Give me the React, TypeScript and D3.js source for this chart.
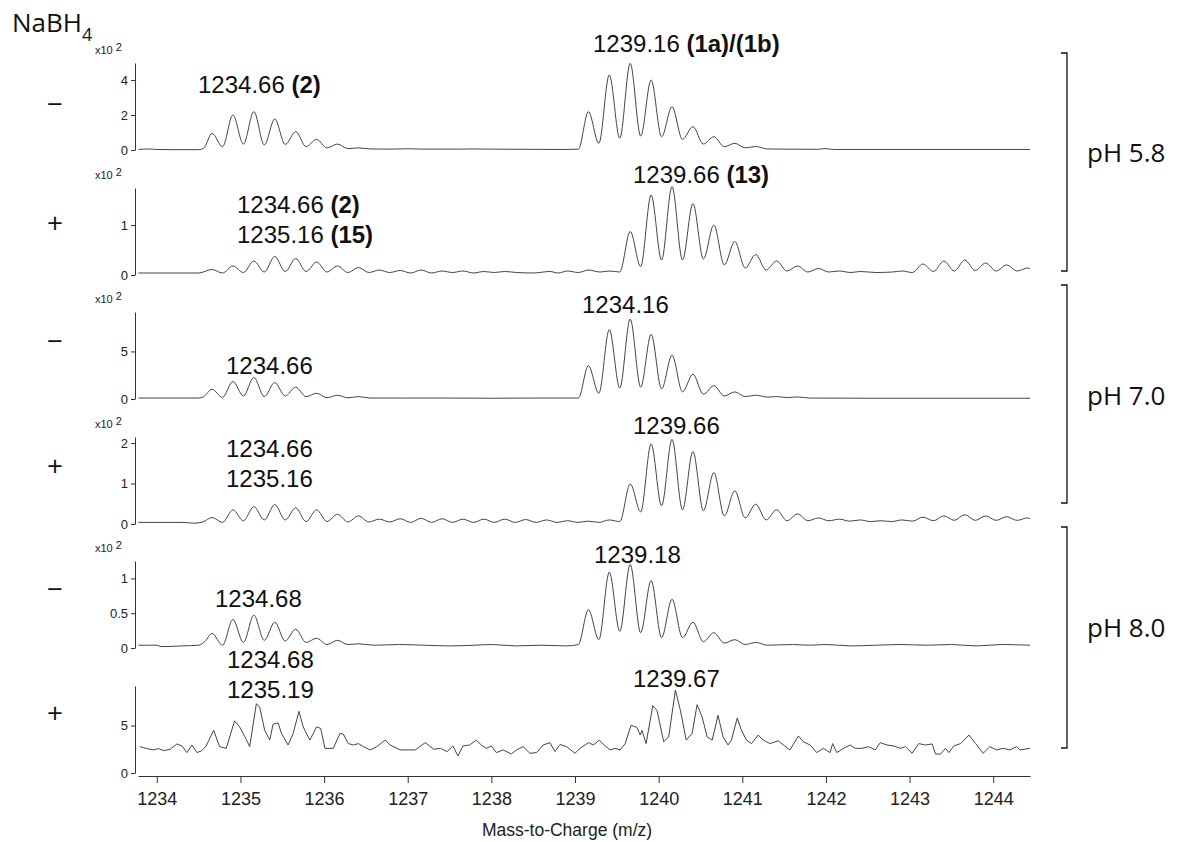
import * as d3 from 'd3'
import { useEffect, useRef } from 'react'

// m/z axis
const mzDomain = [1233.775, 1244.44]
const mzTicks = [1234, 1235, 1236, 1237, 1238, 1239, 1240, 1241, 1242, 1243, 1244]

// one row per trace, top to bottom
const signs = ['\u2212', '+', '\u2212', '+', '\u2212', '+']
const yMax = [4.97, 1.74, 9.15, 2.15, 1.25, 9.17]
const yTicks = [[0, 2, 4], [0, 1], [0, 5], [0, 1, 2], [0, 0.5, 1], [0, 5]]
const showExp = [true, true, true, true, true, false]
const phGroups = ['pH 5.8', 'pH 7.0', 'pH 8.0']

// [m/z, intensity x10^2]
const ph58Minus: [number, number][] = [
	[1233.78, 0.03], [1233.9, 0.06], [1234.0, 0.03], [1234.2, 0.02], [1234.5, 0.02], [1234.56, 0.1],
	[1234.66, 0.95], [1234.785, 0.19], [1234.91, 2.0], [1235.035, 0.34], [1235.16, 2.19], [1235.285, 0.29],
	[1235.41, 1.77], [1235.535, 0.32], [1235.66, 1.05], [1235.785, 0.19], [1235.91, 0.61], [1236.035, 0.12],
	[1236.16, 0.34], [1236.285, 0.08], [1236.41, 0.12], [1236.55, 0.06], [1236.8, 0.05], [1237.0, 0.07],
	[1237.2, 0.05], [1237.6, 0.05], [1237.8, 0.06], [1238.0, 0.05], [1238.4, 0.04], [1238.9, 0.03],
	[1239.04, 0.05], [1239.16, 2.19], [1239.285, 0.38], [1239.41, 4.29], [1239.535, 0.67], [1239.66, 4.95],
	[1239.785, 0.8], [1239.91, 4.0], [1240.035, 0.76], [1240.16, 2.47], [1240.285, 0.61], [1240.41, 1.33],
	[1240.535, 0.34], [1240.66, 0.76], [1240.785, 0.19], [1240.91, 0.38], [1241.035, 0.12], [1241.16, 0.2],
	[1241.3, 0.06], [1241.5, 0.05], [1241.9, 0.04], [1241.99, 0.08], [1242.1, 0.03], [1243.0, 0.03], [1244.44, 0.03],
]

const ph58Plus: [number, number][] = [
	[1233.78, 0.04], [1234.3, 0.04], [1234.5, 0.04], [1234.66, 0.11], [1234.785, 0.04], [1234.91, 0.18],
	[1235.035, 0.05], [1235.16, 0.28], [1235.285, 0.06], [1235.41, 0.37], [1235.535, 0.07], [1235.66, 0.33],
	[1235.785, 0.07], [1235.91, 0.26], [1236.035, 0.06], [1236.16, 0.18], [1236.285, 0.05], [1236.41, 0.15],
	[1236.535, 0.05], [1236.66, 0.1], [1236.785, 0.05], [1236.91, 0.09], [1237.035, 0.04], [1237.16, 0.1],
	[1237.285, 0.04], [1237.41, 0.08], [1237.535, 0.05], [1237.66, 0.08], [1237.785, 0.04], [1237.91, 0.07],
	[1238.035, 0.05], [1238.16, 0.07], [1238.3, 0.05], [1238.5, 0.04], [1238.7, 0.07], [1238.8, 0.04],
	[1238.91, 0.08], [1239.04, 0.05], [1239.16, 0.1], [1239.3, 0.06], [1239.41, 0.08], [1239.535, 0.06],
	[1239.66, 0.87], [1239.785, 0.17], [1239.91, 1.6], [1240.035, 0.3], [1240.16, 1.77], [1240.285, 0.3],
	[1240.41, 1.43], [1240.535, 0.32], [1240.66, 1.0], [1240.785, 0.2], [1240.91, 0.67], [1241.035, 0.14],
	[1241.16, 0.41], [1241.285, 0.1], [1241.41, 0.28], [1241.535, 0.08], [1241.66, 0.18], [1241.785, 0.06],
	[1241.91, 0.13], [1242.035, 0.06], [1242.16, 0.08], [1242.3, 0.05], [1242.41, 0.07], [1242.6, 0.05],
	[1242.8, 0.06], [1242.91, 0.08], [1243.035, 0.05], [1243.16, 0.22], [1243.285, 0.07], [1243.41, 0.28],
	[1243.535, 0.08], [1243.66, 0.3], [1243.785, 0.09], [1243.91, 0.24], [1244.035, 0.08], [1244.16, 0.2],
	[1244.285, 0.08], [1244.41, 0.14], [1244.44, 0.13],
]

const ph70Minus: [number, number][] = [
	[1233.78, 0.1], [1234.5, 0.1], [1234.56, 0.25], [1234.66, 1.03], [1234.785, 0.18], [1234.91, 1.84],
	[1235.035, 0.32], [1235.16, 2.27], [1235.285, 0.25], [1235.41, 1.73], [1235.535, 0.32], [1235.66, 1.24],
	[1235.785, 0.25], [1235.91, 0.6], [1236.035, 0.14], [1236.16, 0.39], [1236.285, 0.12], [1236.41, 0.25],
	[1236.55, 0.1], [1237.0, 0.1], [1237.5, 0.1], [1238.0, 0.08], [1238.5, 0.1], [1239.04, 0.1],
	[1239.16, 3.5], [1239.285, 0.6], [1239.41, 7.3], [1239.535, 1.15], [1239.66, 8.4], [1239.785, 1.25],
	[1239.91, 6.8], [1240.035, 1.06], [1240.16, 4.6], [1240.285, 0.75], [1240.41, 2.6], [1240.535, 0.5],
	[1240.66, 1.4], [1240.785, 0.32], [1240.91, 0.75], [1241.035, 0.25], [1241.16, 0.4], [1241.3, 0.2],
	[1241.41, 0.25], [1241.55, 0.15], [1241.66, 0.22], [1241.8, 0.1], [1242.5, 0.08], [1244.44, 0.08],
]

const ph70Plus: [number, number][] = [
	[1233.78, 0.04], [1234.3, 0.04], [1234.45, 0.02], [1234.55, 0.05], [1234.66, 0.16], [1234.785, 0.04],
	[1234.91, 0.35], [1235.035, 0.08], [1235.16, 0.43], [1235.285, 0.1], [1235.41, 0.48], [1235.535, 0.1],
	[1235.66, 0.4], [1235.785, 0.06], [1235.91, 0.35], [1236.035, 0.06], [1236.16, 0.24], [1236.285, 0.05],
	[1236.41, 0.2], [1236.535, 0.05], [1236.66, 0.12], [1236.785, 0.05], [1236.91, 0.13], [1237.035, 0.04],
	[1237.16, 0.14], [1237.285, 0.04], [1237.41, 0.13], [1237.535, 0.04], [1237.66, 0.12], [1237.785, 0.04],
	[1237.91, 0.12], [1238.035, 0.04], [1238.16, 0.12], [1238.285, 0.04], [1238.41, 0.11], [1238.535, 0.04],
	[1238.66, 0.1], [1238.785, 0.04], [1238.91, 0.08], [1239.035, 0.04], [1239.16, 0.07], [1239.285, 0.04],
	[1239.41, 0.1], [1239.535, 0.06], [1239.66, 0.99], [1239.785, 0.3], [1239.91, 1.98], [1240.035, 0.45],
	[1240.16, 2.09], [1240.285, 0.35], [1240.41, 1.79], [1240.535, 0.33], [1240.66, 1.27], [1240.785, 0.2],
	[1240.91, 0.82], [1241.035, 0.15], [1241.16, 0.49], [1241.285, 0.1], [1241.41, 0.35], [1241.535, 0.08],
	[1241.66, 0.25], [1241.785, 0.08], [1241.91, 0.15], [1242.035, 0.08], [1242.16, 0.12], [1242.285, 0.07],
	[1242.41, 0.1], [1242.535, 0.06], [1242.66, 0.08], [1242.785, 0.06], [1242.91, 0.1], [1243.035, 0.07],
	[1243.16, 0.17], [1243.285, 0.08], [1243.41, 0.2], [1243.535, 0.09], [1243.66, 0.23], [1243.785, 0.09],
	[1243.91, 0.2], [1244.035, 0.09], [1244.16, 0.18], [1244.285, 0.09], [1244.41, 0.15], [1244.44, 0.13],
]

const ph80Minus: [number, number][] = [
	[1233.78, 0.04], [1234.0, 0.04], [1234.05, 0.02], [1234.3, 0.03], [1234.5, 0.04], [1234.58, 0.1],
	[1234.66, 0.21], [1234.785, 0.04], [1234.91, 0.41], [1235.035, 0.08], [1235.16, 0.47], [1235.285, 0.11],
	[1235.41, 0.37], [1235.535, 0.1], [1235.66, 0.27], [1235.785, 0.08], [1235.91, 0.14], [1236.035, 0.05],
	[1236.16, 0.11], [1236.285, 0.05], [1236.41, 0.06], [1236.6, 0.04], [1236.9, 0.05], [1237.2, 0.04],
	[1237.5, 0.03], [1237.8, 0.04], [1238.0, 0.05], [1238.3, 0.03], [1238.6, 0.04], [1238.9, 0.03],
	[1239.04, 0.05], [1239.16, 0.55], [1239.285, 0.12], [1239.41, 1.09], [1239.535, 0.24], [1239.66, 1.2],
	[1239.785, 0.22], [1239.91, 0.97], [1240.035, 0.15], [1240.16, 0.7], [1240.285, 0.15], [1240.41, 0.37],
	[1240.535, 0.09], [1240.66, 0.22], [1240.785, 0.07], [1240.91, 0.12], [1241.035, 0.05], [1241.16, 0.08],
	[1241.3, 0.04], [1241.6, 0.05], [1241.8, 0.04], [1242.0, 0.05], [1242.3, 0.03], [1242.6, 0.04],
	[1242.9, 0.05], [1243.2, 0.04], [1243.5, 0.05], [1243.8, 0.03], [1244.1, 0.05], [1244.44, 0.04],
]

const ph80Plus: [number, number][] = [
	[1233.8, 2.78], [1233.88, 2.57], [1233.96, 2.43], [1234.02, 2.57], [1234.08, 2.36], [1234.16, 2.5],
	[1234.24, 3.06], [1234.3, 2.85], [1234.36, 2.15], [1234.42, 2.95], [1234.48, 2.15], [1234.54, 2.36],
	[1234.59, 2.85], [1234.68, 4.5], [1234.75, 2.78], [1234.83, 2.6], [1234.93, 5.5], [1234.99, 4.86],
	[1235.07, 3.54], [1235.11, 2.78], [1235.19, 7.3], [1235.23, 6.94], [1235.29, 4.5], [1235.35, 3.47],
	[1235.39, 5.14], [1235.45, 5.28], [1235.49, 4.17], [1235.57, 2.95], [1235.63, 4.17], [1235.7, 6.5],
	[1235.75, 4.86], [1235.83, 3.47], [1235.91, 4.86], [1235.96, 4.69], [1236.01, 2.6], [1236.11, 2.6],
	[1236.19, 4.17], [1236.23, 4.1], [1236.29, 3.1], [1236.35, 2.95], [1236.41, 3.1], [1236.47, 2.78],
	[1236.55, 2.43], [1236.63, 2.78], [1236.73, 3.47], [1236.79, 2.95], [1236.91, 2.43], [1237.01, 2.43],
	[1237.09, 2.43], [1237.21, 3.2], [1237.31, 2.5], [1237.39, 2.6], [1237.47, 2.26], [1237.54, 2.85],
	[1237.6, 1.8], [1237.66, 2.85], [1237.74, 2.95], [1237.82, 3.47], [1237.88, 2.95], [1237.94, 2.6],
	[1238.0, 2.85], [1238.06, 2.15], [1238.14, 2.43], [1238.24, 2.0], [1238.3, 2.43], [1238.38, 2.78],
	[1238.46, 2.08], [1238.54, 2.15], [1238.62, 2.95], [1238.7, 3.2], [1238.76, 2.26], [1238.82, 3.0],
	[1238.9, 2.78], [1239.0, 2.08], [1239.06, 2.6], [1239.16, 3.2], [1239.22, 2.95], [1239.29, 3.47],
	[1239.36, 2.85], [1239.42, 2.43], [1239.48, 2.6], [1239.54, 2.43], [1239.6, 3.1], [1239.67, 5.03],
	[1239.74, 4.8], [1239.78, 4.0], [1239.8, 4.5], [1239.85, 3.1], [1239.93, 7.1], [1239.98, 6.6],
	[1240.06, 3.3], [1240.12, 3.8], [1240.2, 8.75], [1240.26, 6.6], [1240.33, 3.47], [1240.4, 4.17],
	[1240.46, 7.2], [1240.52, 5.9], [1240.58, 3.8], [1240.64, 3.47], [1240.71, 6.08], [1240.77, 3.8],
	[1240.83, 2.95], [1240.87, 3.47], [1240.94, 5.8], [1240.99, 4.5], [1241.05, 3.47], [1241.11, 3.1],
	[1241.19, 4.0], [1241.25, 3.47], [1241.33, 3.1], [1241.43, 3.4], [1241.49, 2.95], [1241.57, 2.43],
	[1241.67, 3.9], [1241.73, 3.3], [1241.81, 2.95], [1241.89, 2.15], [1241.97, 2.6], [1242.05, 2.15],
	[1242.08, 3.1], [1242.13, 2.15], [1242.21, 2.6], [1242.29, 2.95], [1242.35, 2.6], [1242.43, 2.6],
	[1242.51, 2.78], [1242.59, 2.43], [1242.65, 3.2], [1242.73, 2.95], [1242.81, 2.85], [1242.89, 2.6],
	[1242.95, 2.78], [1243.03, 2.08], [1243.11, 3.1], [1243.19, 2.95], [1243.27, 3.06], [1243.31, 2.0],
	[1243.37, 2.0], [1243.43, 2.6], [1243.47, 2.15], [1243.53, 2.85], [1243.61, 3.1], [1243.71, 4.0],
	[1243.79, 3.1], [1243.88, 2.08], [1243.96, 2.78], [1244.04, 2.43], [1244.12, 2.6], [1244.2, 2.43],
	[1244.28, 2.78], [1244.32, 2.43], [1244.44, 2.6],
]

const spectra = [ph58Minus, ph58Plus, ph70Minus, ph70Plus, ph80Minus, ph80Plus]

// peak annotations: [text, bold] pieces per line
const peakNotes: { row: number; lines: [string, boolean][][] }[] = [
	{ row: 0, lines: [[['1234.66 ', false], ['(2)', true]]] },
	{ row: 0, lines: [[['1239.16 ', false], ['(1a)/(1b)', true]]] },
	{ row: 1, lines: [[['1234.66 ', false], ['(2)', true]], [['1235.16 ', false], ['(15)', true]]] },
	{ row: 1, lines: [[['1239.66 ', false], ['(13)', true]]] },
	{ row: 2, lines: [[['1234.66', false]]] },
	{ row: 2, lines: [[['1234.16', false]]] },
	{ row: 3, lines: [[['1234.66', false]], [['1235.16', false]]] },
	{ row: 3, lines: [[['1239.66', false]]] },
	{ row: 4, lines: [[['1234.68', false]]] },
	{ row: 4, lines: [[['1239.18', false]]] },
	{ row: 5, lines: [[['1234.68', false]], [['1235.19', false]]] },
	{ row: 5, lines: [[['1239.67', false]]] },
]
// left x and first baseline offset from panel top, same order as peakNotes
const notePos = [
	[198, 30], [593, -11], [237, 25], [633, -5], [226, 62], [582, 1],
	[226, 20], [633, -3], [215, 46], [594, 2], [227, -18], [633, 1],
]

export default function App() {
	const svgRef = useRef<SVGSVGElement>(null)

	useEffect(() => {
		const svg = d3.select(svgRef.current)
		svg.selectAll('*').remove()

		const left = 138
		const right = 1030
		const panelTop = [63, 188, 312, 437, 561, 686]
		const panelH = 87
		const axisY = 776
		const ink = '#333'

		const x = d3.scaleLinear().domain(mzDomain).range([left, right])

		spectra.forEach((pts, i) => {
			const top = panelTop[i]
			const y = d3.scaleLinear().domain([0, yMax[i]]).range([top + panelH, top])
			const g = svg.append('g')

			const yAxis = g
				.append('g')
				.attr('transform', 'translate(135,0)')
				.call(
					d3
						.axisLeft(y)
						.tickValues(yTicks[i])
						.tickSize(4)
						.tickSizeOuter(0)
						.tickPadding(3)
						.tickFormat((d) => String(d))
				)
			yAxis.select('.domain').attr('stroke', ink)
			yAxis.selectAll('line').attr('stroke', ink)
			yAxis
				.selectAll('text')
				.attr('font-family', 'Liberation Sans, Arial, sans-serif')
				.attr('font-size', 13)
				.attr('fill', '#222')

			if (showExp[i]) {
				const ex = g
					.append('text')
					.attr('x', 95)
					.attr('y', top - 9)
					.attr('font-family', 'Liberation Sans, Arial, sans-serif')
					.attr('font-size', 11)
					.attr('fill', '#222')
				ex.append('tspan').text('x10')
				ex.append('tspan').attr('dx', 3).attr('dy', -3).text('2')
			}

			const line = d3
				.line<[number, number]>()
				.x((d) => x(d[0]))
				.y((d) => y(d[1]))
				.curve(i === 5 ? d3.curveLinear : d3.curveMonotoneX)

			g.append('path')
				.datum(pts)
				.attr('fill', 'none')
				.attr('stroke', '#444')
				.attr('stroke-width', 1)
				.attr('stroke-linejoin', 'round')
				.attr('d', line)

			g.append('text')
				.attr('x', 55)
				.attr('y', [103, 222, 340, 465, 588, 712][i])
				.attr('text-anchor', 'middle')
				.attr('dominant-baseline', 'central')
				.attr('font-family', 'Open Sans, sans-serif')
				.attr('font-size', 28)
				.attr('fill', '#111')
				.text(signs[i])
		})

		// peak labels
		peakNotes.forEach((n, k) => {
			const [lx, dy] = notePos[k]
			n.lines.forEach((parts, j) => {
				const t = svg
					.append('text')
					.attr('x', lx)
					.attr('y', panelTop[n.row] + dy + j * 30)
					.attr('font-family', 'Liberation Sans, Arial, sans-serif')
					.attr('font-size', 24)
					.attr('fill', '#111')
				parts.forEach(([s, b]) => {
					t.append('tspan')
						.attr('font-weight', b ? 'bold' : 'normal')
						.attr('xml:space', 'preserve')
						.text(s)
				})
			})
		})

		// m/z axis
		const xAxis = svg
			.append('g')
			.attr('transform', `translate(0,${axisY})`)
			.call(d3.axisBottom(x).tickValues(mzTicks).tickSize(7).tickSizeOuter(0).tickPadding(9).tickFormat((d) => String(d)))
		xAxis.select('.domain').attr('stroke', ink)
		xAxis.selectAll('line').attr('stroke', ink)
		xAxis
			.selectAll('text')
			.attr('font-family', 'Liberation Sans, Arial, sans-serif')
			.attr('font-size', 18)
			.attr('fill', '#222')

		svg.append('text')
			.attr('x', 567)
			.attr('y', 836)
			.attr('text-anchor', 'middle')
			.attr('font-family', 'Liberation Sans, Arial, sans-serif')
			.attr('font-size', 17.5)
			.attr('fill', '#222')
			.text('Mass-to-Charge (m/z)')

		// NaBH4 header
		const hdr = svg
			.append('text')
			.attr('x', 12)
			.attr('y', 32)
			.attr('font-family', 'Open Sans, sans-serif')
			.attr('font-size', 26)
			.attr('fill', '#111')
		hdr.append('tspan').text('NaBH')
		hdr.append('tspan').attr('font-size', 18).attr('dy', 9).text('4')

		// pH brackets
		const brackets = [
			[53, 271, 152],
			[285, 503, 395],
			[527, 748, 627],
		]
		brackets.forEach(([y0, y1, ym], k) => {
			svg.append('path')
				.attr('d', `M1061,${y0}H1067V${y1}H1061`)
				.attr('fill', 'none')
				.attr('stroke', '#111')
				.attr('stroke-width', 1.3)
			svg.append('text')
				.attr('x', 1087)
				.attr('y', ym)
				.attr('dominant-baseline', 'central')
				.attr('font-family', 'Open Sans, sans-serif')
				.attr('font-size', 26)
				.attr('fill', '#111')
				.text(phGroups[k])
		})
	}, [])

	return (
		<svg
			ref={svgRef}
			width={1178}
			height={842}
			style={{ position: 'absolute', left: 0, top: 0, background: '#fff' }}
		/>
	)
}
